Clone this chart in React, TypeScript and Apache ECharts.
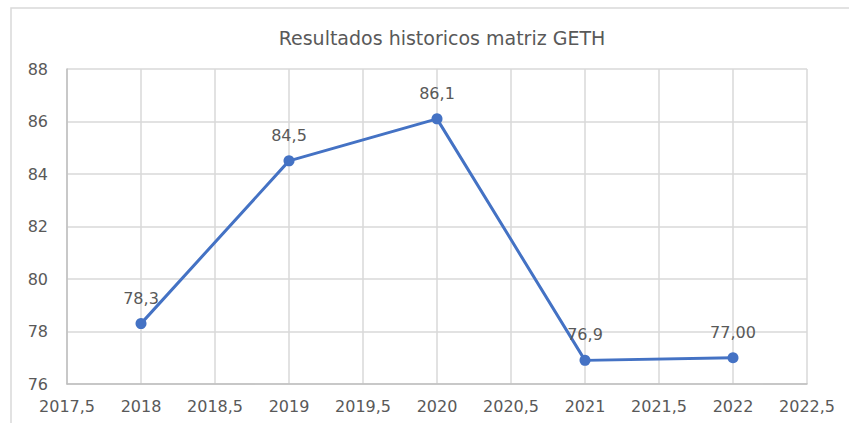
import React, { useEffect, useRef } from "react";
import * as echarts from "echarts";

const years = [2018, 2019, 2020, 2021, 2022];
const values = [78.3, 84.5, 86.1, 76.9, 77.0];
const pointLabels = ["78,3", "84,5", "86,1", "76,9", "77,00"];
const titleText = "Resultados historicos matriz GETH";

const FONT = "DejaVu Sans";
const GREY = "#595959";

export default function App() {
  const ref = useRef<HTMLDivElement>(null);
  useEffect(() => {
    if (!ref.current) return;
    const chart = echarts.init(ref.current, undefined, { renderer: "svg" });
    chart.setOption({
      animation: false,
      backgroundColor: "#ffffff",
      title: {
        text: titleText,
        left: 437,
        textAlign: "center",
        top: 23,
        textStyle: { fontFamily: FONT, fontSize: 19, fontWeight: "normal", color: GREY },
      },
      graphic: [
        {
          type: "rect",
          shape: { x: 11, y: 8, width: 900, height: 500 },
          style: { fill: "none", stroke: "#d9d9d9", lineWidth: 1.5 },
          silent: true,
          z: -1,
        },
      ],
      grid: { left: 67, right: 42, top: 69, bottom: 39 },
      xAxis: {
        type: "value",
        min: 2017.5,
        max: 2022.5,
        interval: 0.5,
        axisLine: { show: true, lineStyle: { color: "#bfbfbf", width: 1.5 } },
        axisTick: { show: false },
        splitLine: { show: true, lineStyle: { color: "#d9d9d9", width: 1.5 } },
        axisLabel: {
          fontFamily: FONT,
          fontSize: 16,
          color: GREY,
          margin: 14,
          formatter: (v: number) => String(v).replace(".", ","),
        },
      },
      yAxis: {
        type: "value",
        min: 76,
        max: 88,
        interval: 2,
        axisLine: { show: true, lineStyle: { color: "#bfbfbf", width: 1.5 } },
        axisTick: { show: false },
        splitLine: { show: true, lineStyle: { color: "#d9d9d9", width: 1.5 } },
        axisLabel: { fontFamily: FONT, fontSize: 16, color: GREY, margin: 19 },
      },
      series: [
        {
          type: "line",
          data: years.map((y, i) => [y, values[i]]),
          symbol: "circle",
          symbolSize: 11,
          lineStyle: { color: "#4472C4", width: 3 },
          itemStyle: { color: "#4472C4" },
          label: {
            show: true,
            position: "top",
            distance: 12,
            fontFamily: FONT,
            fontSize: 16,
            color: GREY,
            formatter: (p: any) => pointLabels[p.dataIndex],
          },
        },
      ],
    });
    return () => chart.dispose();
  }, []);
  return (
    <div
      ref={ref}
      style={{ position: "fixed", left: 0, top: 0, width: 849, height: 423 }}
    />
  );
}
